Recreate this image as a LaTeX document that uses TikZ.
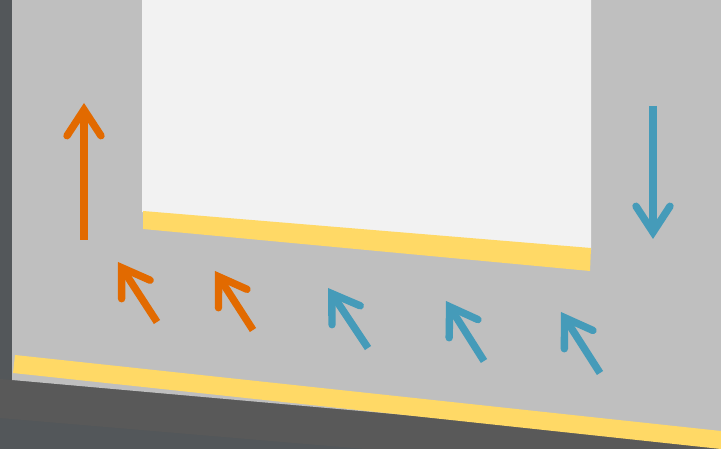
\documentclass[tikz,border=0pt]{standalone}
\usetikzlibrary{arrows.meta}
\definecolor{bgdark}{HTML}{53575A}
\definecolor{banddark}{HTML}{595959}
\definecolor{wallgray}{HTML}{BFBFBF}
\definecolor{roomwhite}{HTML}{F2F2F2}
\definecolor{stripyellow}{HTML}{FFD966}
\definecolor{warmorange}{HTML}{E26A00}
\definecolor{coolblue}{HTML}{459BB9}
\begin{document}
\begin{tikzpicture}[
        x=1pt, y=-1pt,
        flow/.style={line width=7.4pt, -{Straight Barb[length=26pt, width=34pt, line cap=round, line join=miter]}},
        warm/.style={flow, draw=warmorange},
        cool/.style={flow, draw=coolblue}
      ]
      \useasboundingbox (0,0) rectangle (721,449);
      \fill[bgdark] (0,0) rectangle (721,449);
      \fill[banddark] (0,379) -- (721,441) -- (721,449) -- (365,449) -- (0,418) -- cycle;
      \fill[wallgray] (12,0) -- (721,0) -- (721,443) -- (12,380) -- cycle;
      \fill[roomwhite] (142,0) -- (591,0) -- (591,250) -- (142,212) -- cycle;
      \fill[stripyellow] (143,211) -- (591,248) -- (590,271) -- (143,229) -- cycle;
      \fill[stripyellow] (15,355) -- (721,431) -- (721,449) -- (13,373) -- cycle;

      % vertical flows
      \draw[warm] (84,240) -- (84,103);
      \draw[cool] (653,106) -- (653,239);

      % flows along the floor
      \draw[warm] (157,322) -- (118,262);
      \draw[warm] (253,330) -- (215,271);
      \draw[cool] (368,348) -- (328,288);
      \draw[cool] (484,361) -- (446,301);
      \draw[cool] (600,373) -- (561,312);
    \end{tikzpicture}
\end{document}
